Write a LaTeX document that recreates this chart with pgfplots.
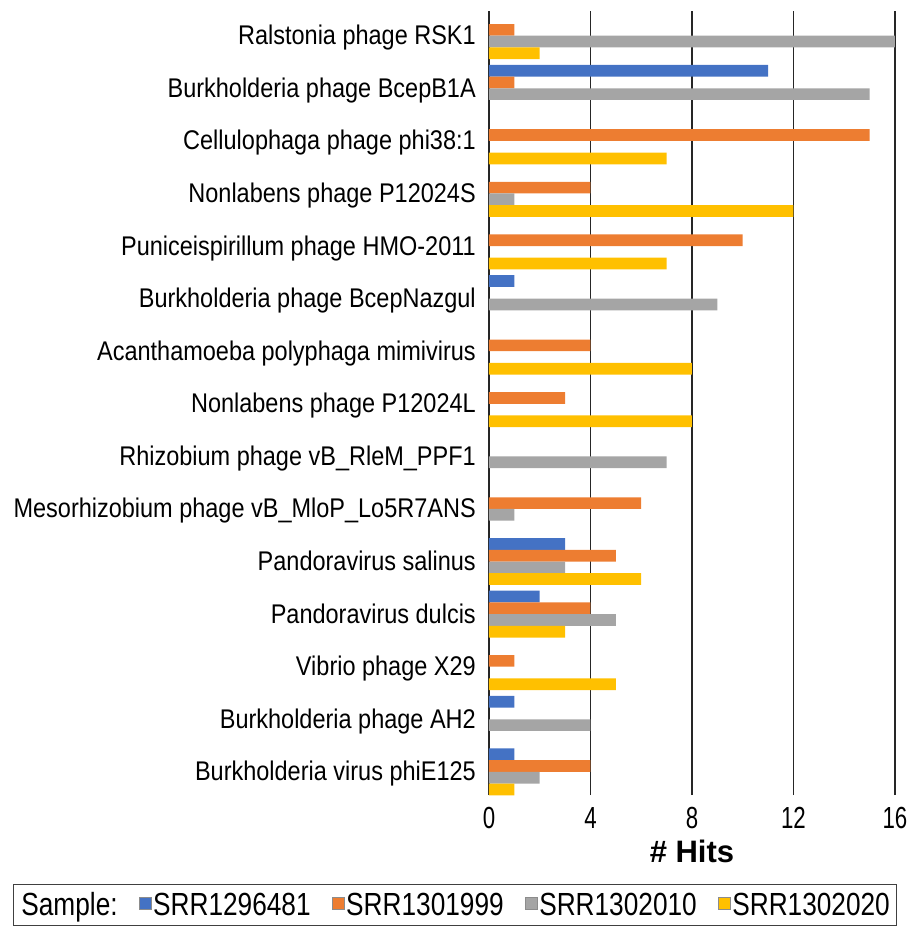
\documentclass[border=0pt]{standalone}
\usepackage{fontspec}
\setmainfont{Liberation Sans}
\newfontfamily\catfont[FakeStretch=0.87]{Liberation Sans}
\newfontfamily\tickfont[FakeStretch=0.73]{Liberation Sans}
\newfontfamily\legfont[FakeStretch=0.82]{Liberation Sans}
\usepackage{pgfplots}
\pgfplotsset{compat=1.18}
\definecolor{cblue}{HTML}{4472C4}
\definecolor{corange}{HTML}{ED7D31}
\definecolor{cgray}{HTML}{A5A5A5}
\definecolor{cyellow}{HTML}{FFC000}
\begin{document}
\begin{tikzpicture}
\begin{axis}[
  name=ax, scale only axis, width=406pt, height=784pt,
  xbar, bar width=11.7pt,
  xmin=0, xmax=16, ymin=-0.44, ymax=14.47,
  xtick={0,4,8,12,16}, ytick={0,...,14},
  yticklabels={Burkholderia virus phiE125, Burkholderia phage AH2, Vibrio phage X29, Pandoravirus dulcis, Pandoravirus salinus, Mesorhizobium phage vB\_MloP\_Lo5R7ANS, Rhizobium phage vB\_RleM\_PPF1, Nonlabens phage P12024L, Acanthamoeba polyphaga mimivirus, Burkholderia phage BcepNazgul, Puniceispirillum phage HMO-2011, Nonlabens phage P12024S, Cellulophaga phage phi38:1, Burkholderia phage BcepB1A, Ralstonia phage RSK1},
  xmajorgrids, ymajorgrids=false,
  major grid style={black!85, line width=1.5pt},
  axis line style={draw=none}, major tick length=0pt,
  /pgf/number format/assume math mode=true,
  xticklabel style={font=\tickfont\fontsize{30.5}{33}\selectfont, anchor=base, inner sep=0pt, yshift=-33pt},
  yticklabel style={font=\catfont\fontsize{27}{30}\selectfont, anchor=base east, inner sep=0pt, xshift=-13pt, yshift=-9pt},
  xlabel={\bfseries\# Hits},
  xlabel style={font=\fontsize{31}{34}\selectfont, at={(axis description cs:0.5,0)}, anchor=base, yshift=-67pt},
  legend columns=5,
  legend image code/.code={\draw[#1, draw=black!45, line width=0.5pt] (0pt,-5pt) rectangle (12pt,7pt);},
  legend style={font=\legfont\fontsize{32}{36}\selectfont, draw=black!75, line width=0.8pt,
    at={(rel axis cs:0,0)}, anchor=north west, xshift=-476pt, yshift=-89pt,
    inner xsep=6pt, inner ysep=6pt,
    nodes={inner xsep=1pt, inner ysep=2pt},
    /tikz/every odd column/.style={column sep=1pt},
    /tikz/every even column/.style={column sep=20pt}},
]
\addlegendimage{empty legend}
\addlegendentry{Sample:}
\addplot[fill=cblue, draw=none, bar shift=17.55pt] coordinates {(11,13) (1,9) (3,4) (2,3) (1,1) (1,0)};
\addlegendentry{SRR1296481}
\addplot[fill=corange, draw=none, bar shift=5.85pt] coordinates {(1,14) (1,13) (15,12) (4,11) (10,10) (4,8) (3,7) (6,5) (5,4) (4,3) (1,2) (4,0)};
\addlegendentry{SRR1301999}
\addplot[fill=cgray, draw=none, bar shift=-5.85pt] coordinates {(16,14) (15,13) (1,11) (9,9) (7,6) (1,5) (3,4) (5,3) (4,1) (2,0)};
\addlegendentry{SRR1302010}
\addplot[fill=cyellow, draw=none, bar shift=-17.55pt] coordinates {(2,14) (7,12) (12,11) (7,10) (8,8) (8,7) (6,4) (3,3) (5,2) (1,0)};
\addlegendentry{SRR1302020}
\end{axis}
\pgfresetboundingbox
\path (ax.south west) ++(-489pt,-135pt) rectangle ++(913pt,930pt);
\end{tikzpicture}
\end{document}
